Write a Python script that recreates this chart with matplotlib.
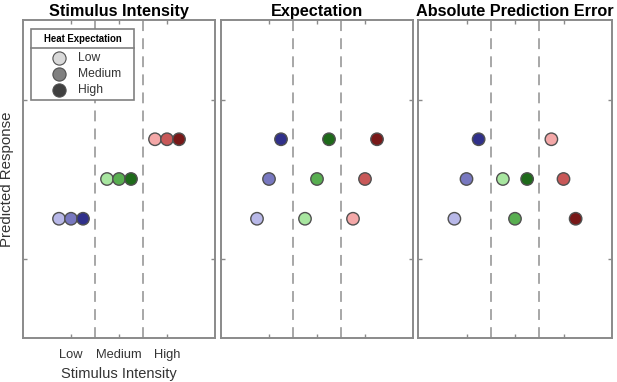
import matplotlib
matplotlib.use("Agg")
import matplotlib.pyplot as plt
from matplotlib.lines import Line2D
from matplotlib.patches import Rectangle

plt.rcParams['font.family'] = ['Liberation Sans', 'DejaVu Sans']

# ---- data ----
titles = ["Stimulus Intensity", "Expectation", "Absolute Prediction Error"]
tick_labels = ["Low", "Medium", "High"]
legend_title = "Heat Expectation"
legend_labels = ["Low", "Medium", "High"]
legend_colors = ["#d9d9d9", "#808080", "#404040"]

# one entry per (intensity, expectation) combination
intensity = [1, 1, 1, 2, 2, 2, 3, 3, 3]
expect_offset = [-0.25, 0, 0.25, -0.25, 0, 0.25, -0.25, 0, 0.25]
colors = ["#b8b8e8", "#7878c0", "#30308a",
          "#a8e6a0", "#58ae50", "#1e6a1a",
          "#f4a8a8", "#c85858", "#781818"]
y_stimulus = [1.5, 1.5, 1.5, 2.0, 2.0, 2.0, 2.5, 2.5, 2.5]
y_expectation = [1.5, 2.0, 2.5, 1.5, 2.0, 2.5, 1.5, 2.0, 2.5]
y_abs_pe = [1.5, 2.0, 2.5, 2.0, 1.5, 2.0, 2.5, 2.0, 1.5]
panel_y = [y_stimulus, y_expectation, y_abs_pe]

W, H = 617, 382
fig = plt.figure(figsize=(W / 100, H / 100), dpi=100)

lefts = [23, 221, 418]
widths = [192, 192, 194]
bottom_px, top_px = 338, 20
spine_col = "#8a8a8a"

axes = []
for i in range(3):
    ax = fig.add_axes([lefts[i] / W, (H - bottom_px) / H, widths[i] / W,
                       (bottom_px - top_px) / H])
    axes.append(ax)
    ax.set_xlim(0, 4)
    ax.set_ylim(0, 4)
    for s in ax.spines.values():
        s.set_color(spine_col)
        s.set_linewidth(1.4)
    ax.set_xticks([1, 2, 3])
    ax.set_yticks([1, 3])
    ax.tick_params(direction="in", length=3, width=1, color=spine_col,
                   top=True, right=True, labelsize=9.3, labelcolor="#333333",
                   pad=8)
    ax.set_yticklabels([])
    if i == 0:
        ax.set_xticklabels(tick_labels)
        ax.set_xlabel("Stimulus Intensity", fontsize=10.5, color="#333333",
                      labelpad=4)
        ax.set_ylabel("Predicted Response", fontsize=10.8, color="#333333")
        ax.yaxis.set_label_coords(-(23 - 14) / 192, 0.5)
    else:
        ax.set_xticklabels([])
    for xv in (1.5, 2.5):
        ax.axvline(xv, color="#a0a0a0", lw=1.3, ls=(0, (6, 4)), zorder=1)
    xs = [a + b for a, b in zip(intensity, expect_offset)]
    ax.scatter(xs, panel_y[i], s=80, c=colors, edgecolors="#505050",
               linewidths=1.0, zorder=3)
    ax.set_title(titles[i], fontsize=11.7, fontweight="bold", pad=3)


# ---- manual legend (pixel layout) ----
def fx(px):
    return px / W


def fy(py):
    return 1 - py / H


box_l, box_t, box_r, box_b = 31, 29, 134, 100
fig.add_artist(Rectangle((fx(box_l), fy(box_b)), fx(box_r - box_l),
                         (box_b - box_t) / H, transform=fig.transFigure,
                         facecolor="white", edgecolor="#808080", lw=1.2,
                         zorder=5))
fig.add_artist(Line2D([fx(box_l), fx(box_r)], [fy(48), fy(48)],
                      transform=fig.transFigure, color="#808080", lw=1.2,
                      zorder=6))
fig.text(fx((box_l + box_r) / 2), fy(39), legend_title, fontsize=6.9,
         fontweight="bold", ha="center", va="center", zorder=6)
for k, (lab, col) in enumerate(zip(legend_labels, legend_colors)):
    yy = 58 + 16 * k
    fig.add_artist(Line2D([fx(59)], [fy(yy)], transform=fig.transFigure,
                          ls="none", marker="o", markersize=9.5,
                          markerfacecolor=col, markeredgecolor="#505050",
                          markeredgewidth=0.8, zorder=6))
    fig.text(fx(78), fy(yy), lab, fontsize=8.7, color="#333333",
             ha="left", va="center", zorder=6)

fig.savefig("out.png", dpi=100)
